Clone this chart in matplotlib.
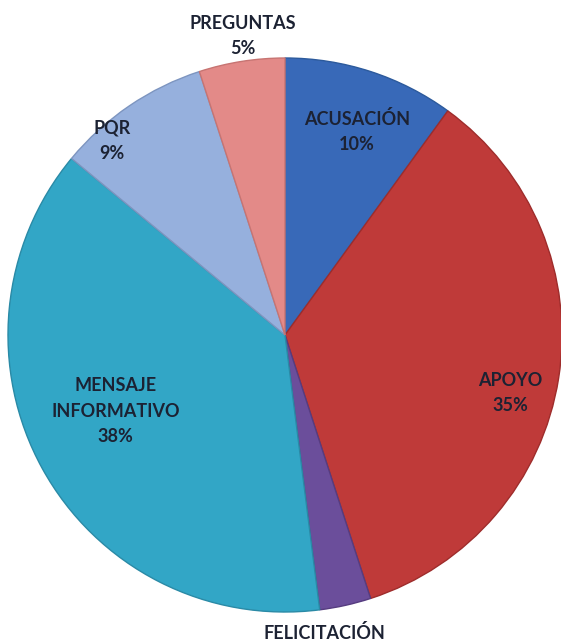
import numpy as np
import matplotlib
matplotlib.use('Agg')
import matplotlib.pyplot as plt

# Datos
categorias = ['ACUSACIÓN', 'APOYO', 'FELICITACIÓN', 'MENSAJE\nINFORMATIVO', 'PQR', 'PREGUNTAS']
porcentajes = [10, 35, 3, 38, 9, 5]

colores = ['#3869b8', '#bf3a39', '#6b4e9b', '#32a6c6', '#96b0dd', '#e38a88']
bordes = ['#2c5a9c', '#9e2c2b', '#563c80', '#2a8aa6', '#7d95c0', '#c77472']
# posición de cada etiqueta: fracción del radio y desvío angular (grados)
dist_etiqueta = [0.78, 0.84, 1.085, 0.67, 0.94, 1.09]
desvio_ang = [-1.5, -5.5, -5.0, -4.5, 7.5, -1.0]
# en la imagen original el porcentaje de FELICITACIÓN queda fuera del borde
mostrar_pct = [True, True, False, True, True, True]

fig = plt.figure(figsize=(5.61, 6.44), dpi=100)
ax = fig.add_axes([0, 0, 1, 1])

cx, cy, R = 285, 309, 277
wedges, _ = ax.pie(porcentajes, colors=colores, startangle=90, counterclock=False,
                   center=(cx, cy), radius=R, frame=True,
                   wedgeprops=dict(linewidth=1.0))
for w, ec in zip(wedges, bordes):
    w.set_edgecolor(ec)

ax.set_xlim(0, 561)
ax.set_ylim(0, 644)
ax.set_aspect('equal')
ax.axis('off')

for w, cat, p, d, da, mp in zip(wedges, categorias, porcentajes, dist_etiqueta,
                                desvio_ang, mostrar_pct):
    ang = np.deg2rad((w.theta1 + w.theta2) / 2 + da)
    x = cx + d * R * np.cos(ang)
    y = cy + d * R * np.sin(ang)
    txt = f'{cat}\n{p}%' if mp else cat
    ax.text(x, y, txt, ha='center', va='center', fontsize=13,
            fontweight='bold', family='Lato', color='#1c2233', linespacing=1.6)

plt.savefig('out.png', dpi=100)
plt.close()
